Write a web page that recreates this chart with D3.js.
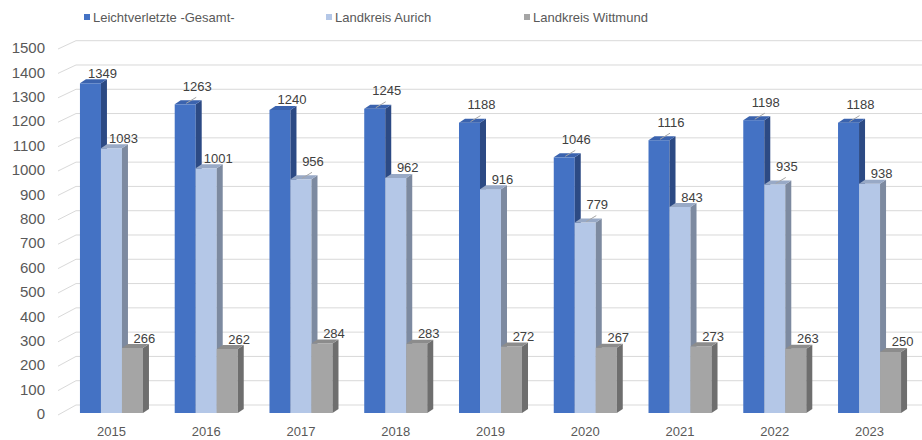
<!DOCTYPE html>
<html>
<head>
<meta charset="utf-8">
<script src="https://cdn.jsdelivr.net/npm/d3@7"></script>
<style>
  body { margin: 0; background: #fff; }
  svg { display: block; font-family: "Liberation Sans", Arial, sans-serif; }
</style>
</head>
<body>
<div id="chart"></div>
<script>
const years = ['2015', '2016', '2017', '2018', '2019', '2020', '2021', '2022', '2023'];
const gesamt = [1349, 1263, 1240, 1245, 1188, 1046, 1116, 1198, 1188];
const aurich = [1083, 1001, 956, 962, 916, 779, 843, 935, 938];
const wittmund = [266, 262, 284, 283, 272, 267, 273, 263, 250];
const seriesNames = ['Leichtverletzte -Gesamt-', 'Landkreis Aurich', 'Landkreis Wittmund'];
const yTicks = d3.range(0, 1501, 100);
// labels that Excel pushed up with a small leader line (year|series index)
const leaderLabels = new Set(['2016|0', '2018|0', '2019|0', '2020|0', '2021|0', '2022|0', '2023|0',
  '2017|1', '2020|1', '2022|1']);

const width = 922;
const height = 440;

// front, side, top colours per series
const colors = [
  { front: '#4472c4', side: '#2c4a84', top: '#3b63ae' },
  { front: '#b4c7e7', side: '#7d8aa0', top: '#98a9c6' },
  { front: '#a5a5a5', side: '#6e6e6e', top: '#8c8c8c' },
];

const svg = d3.select('#chart')
  .append('svg')
  .attr('width', width)
  .attr('height', height);

const xScale = d3.scaleBand()
  .domain(years)
  .range([61, 920])
  .paddingInner(0.335)
  .paddingOuter(0.2);

const subScale = d3.scaleBand()
  .domain([0, 1, 2])
  .range([0, xScale.bandwidth()]);

// bar front faces, front wall of the axis, back wall
const yBar = d3.scaleLinear().domain([0, 1500]).range([413, 46.4]);
const yFront = d3.scaleLinear().domain([0, 1500]).range([415, 49]);
const yBack = d3.scaleLinear().domain([0, 1500]).range([405, 40.7]);

const depth = { dx: 6, dy: -4 };

// gridlines: short diagonal on the side wall, then along the back wall
const grid = svg.append('g').attr('class', 'gridlines')
  .attr('stroke', '#d9d9d9').attr('stroke-width', 1).attr('fill', 'none');

grid.selectAll('path')
  .data(yTicks)
  .join('path')
  .attr('d', (d) => `M58,${yFront(d)} L76,${yBack(d)} L${width},${yBack(d)}`);

// y labels
svg.append('g')
  .selectAll('text')
  .data(yTicks)
  .join('text')
  .attr('x', 45)
  .attr('y', (d) => yFront(d) - 1)
  .attr('dy', '0.35em')
  .attr('text-anchor', 'end')
  .attr('font-size', 15)
  .attr('fill', '#595959')
  .text((d) => d);

const rows = years.map((year, i) => ({
  year,
  values: [gesamt[i], aurich[i], wittmund[i]],
}));

const bars = svg.append('g').attr('class', 'bars');

rows.forEach((row) => {
  row.values.forEach((v, s) => {
    const x0 = xScale(row.year) + subScale(s);
    const x1 = x0 + subScale.bandwidth();
    const yt = yBar(v);
    const yb = yBar(0);
    const c = colors[s];
    const g = bars.append('g');
    g.append('rect')
      .attr('x', x0).attr('y', yt)
      .attr('width', x1 - x0).attr('height', yb - yt)
      .attr('fill', c.front);
    g.append('path')
      .attr('d', `M${x1},${yt} L${x1 + depth.dx},${yt + depth.dy} L${x1 + depth.dx},${yb + depth.dy} L${x1},${yb} Z`)
      .attr('fill', c.side);
    g.append('path')
      .attr('d', `M${x0},${yt} L${x0 + depth.dx},${yt + depth.dy} L${x1 + depth.dx},${yt + depth.dy} L${x1},${yt} Z`)
      .attr('fill', c.top);
  });
});

// data labels
const labels = svg.append('g').attr('class', 'labels');
rows.forEach((row) => {
  row.values.forEach((v, s) => {
    const cx = xScale(row.year) + subScale(s) + subScale.bandwidth() / 2;
    const yt = yBar(v);
    const leader = leaderLabels.has(row.year + '|' + s);
    if (leader) {
      labels.append('line')
        .attr('x1', cx + 1).attr('y1', yt - 1)
        .attr('x2', cx + 11).attr('y2', yt - 7)
        .attr('stroke', '#a6a6a6').attr('stroke-width', 1);
    }
    labels.append('text')
      .attr('x', cx + 12)
      .attr('y', leader ? yt - 18 : yt - 10)
      .attr('dy', '0.35em')
      .attr('text-anchor', 'middle')
      .attr('font-size', 13)
      .attr('fill', '#404040')
      .text(v);
  });
});

// x labels
svg.append('g')
  .selectAll('text')
  .data(years)
  .join('text')
  .attr('x', (d) => xScale(d) + xScale.bandwidth() / 2)
  .attr('y', 431)
  .attr('dy', '0.35em')
  .attr('text-anchor', 'middle')
  .attr('font-size', 13)
  .attr('fill', '#595959')
  .text((d) => d);

// legend
const legendX = [84, 326, 524];
const legend = svg.append('g').attr('class', 'legend');
seriesNames.forEach((name, i) => {
  legend.append('rect')
    .attr('x', legendX[i]).attr('y', 14)
    .attr('width', 6).attr('height', 6)
    .attr('fill', colors[i].front);
  legend.append('text')
    .attr('x', legendX[i] + 9)
    .attr('y', 17)
    .attr('dy', '0.35em')
    .attr('font-size', 13)
    .attr('fill', '#595959')
    .text(name);
});
</script>
</body>
</html>
